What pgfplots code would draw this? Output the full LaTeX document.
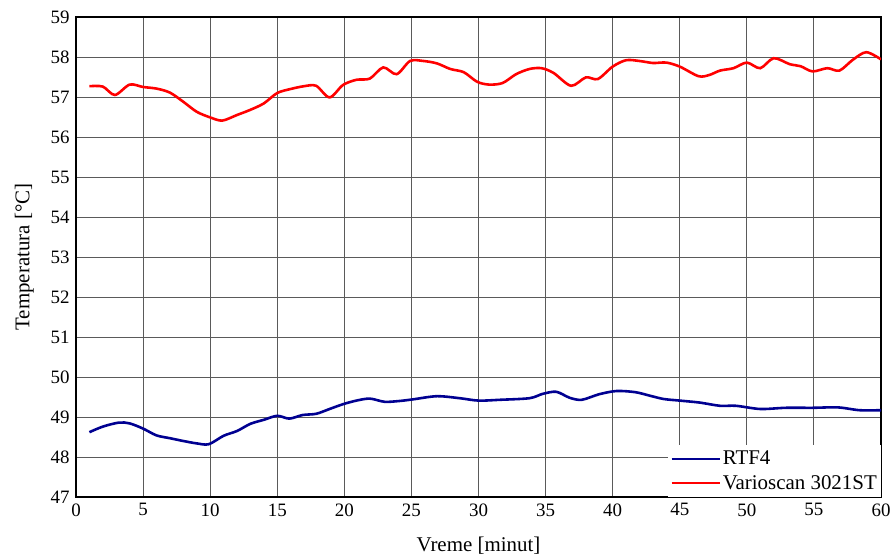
\documentclass[border=0pt]{standalone}
\usepackage{pgfplots}
\pgfplotsset{compat=1.18}
\usepackage{fontspec}
\setmainfont{Liberation Serif}
\definecolor{navyb}{RGB}{0,0,145}
\definecolor{gridg}{RGB}{90,90,90}
\begin{document}
\begin{tikzpicture}
\path[use as bounding box] (-76bp,-60bp) rectangle (817bp,497bp);
\begin{axis}[
  at={(0,0)}, anchor=south west,
  scale only axis, width=805bp, height=480bp,
  xmin=0, xmax=60, ymin=47, ymax=59,
  xtick={0,5,...,60}, ytick={47,48,...,59},
  grid=major,
  major grid style={gridg, line width=0.9pt},
  axis line style={black, line width=1.2pt},
  tick style={draw=none},
  /pgf/number format/assume math mode=true,
  ticklabel style={font=\fontsize{19}{22}\selectfont},
  xticklabel style={yshift=-3bp},
  yticklabel style={xshift=-3bp},
  xlabel={Vreme [minut]},
  ylabel={Temperatura [°C]},
  label style={font=\fontsize{21}{25}\selectfont},
  xlabel style={yshift=-14bp},
  ylabel style={yshift=10bp},
  legend cell align=left,
  legend style={at={(rel axis cs:1,0)}, anchor=south east, draw=none, fill=white,
    font=\fontsize{21}{24}\selectfont, row sep=5bp, inner xsep=2bp, inner ysep=4bp},
  legend image code/.code={\draw[#1, line width=2.5pt] (0bp,0bp) -- (48bp,0bp);},
]
\addplot[navyb, line width=2.6pt, smooth, tension=0.5] coordinates {
(1,48.62) (2,48.76) (3.2,48.86) (4,48.84) (5,48.71) (6,48.54) (7,48.47) (8,48.4) (9,48.34) (9.9,48.32)
(11,48.53) (12,48.65) (13,48.83) (14,48.93) (15,49.03) (15.9,48.96) (16.9,49.05) (17.9,49.08) (18.9,49.2)
(19.9,49.32) (20.9,49.41) (21.9,49.46) (23,49.38) (24.1,49.4) (25.1,49.44) (26.9,49.52) (28.6,49.47)
(30,49.41) (31.6,49.43) (33.8,49.47) (34.8,49.58) (35.8,49.63) (36.8,49.48) (37.7,49.43) (39,49.57)
(40.3,49.65) (41.7,49.62) (42.8,49.53) (43.8,49.45) (45,49.41) (46.5,49.36) (48,49.28) (49.2,49.28)
(51,49.2) (52.9,49.23) (54.9,49.23) (56.8,49.24) (58.4,49.17) (60,49.17)};
\addlegendentry{RTF4}
\addplot[red, line width=2.6pt, smooth, tension=0.5] coordinates {
(1,57.27) (2,57.26) (2.9,57.05) (4,57.31) (5,57.25) (6,57.21) (7,57.11) (8,56.88) (9,56.63) (10,56.49)
(10.9,56.41) (12,56.55) (13,56.68) (14,56.84) (15,57.1) (16,57.2) (17,57.27) (17.9,57.28) (18.9,56.99)
(19.9,57.3) (20.9,57.43) (21.9,57.46) (22.9,57.74) (23.9,57.57) (24.9,57.9) (25.9,57.9) (26.9,57.84)
(27.9,57.7) (28.9,57.62) (29.9,57.38) (30.8,57.31) (31.8,57.35) (32.8,57.57) (33.8,57.7) (34.7,57.72)
(35.6,57.6) (36.9,57.28) (38,57.49) (38.9,57.45) (40,57.76) (41,57.92) (42,57.9) (43,57.85) (44,57.86)
(45,57.76) (46.4,57.52) (47.2,57.55) (48,57.66) (49,57.72) (50,57.86) (51,57.72) (52,57.97) (53.2,57.82)
(54,57.77) (54.9,57.64) (56,57.72) (56.9,57.66) (57.9,57.93) (58.9,58.12) (60,57.94)};
\addlegendentry{Varioscan 3021ST}
\end{axis}
\end{tikzpicture}
\end{document}
